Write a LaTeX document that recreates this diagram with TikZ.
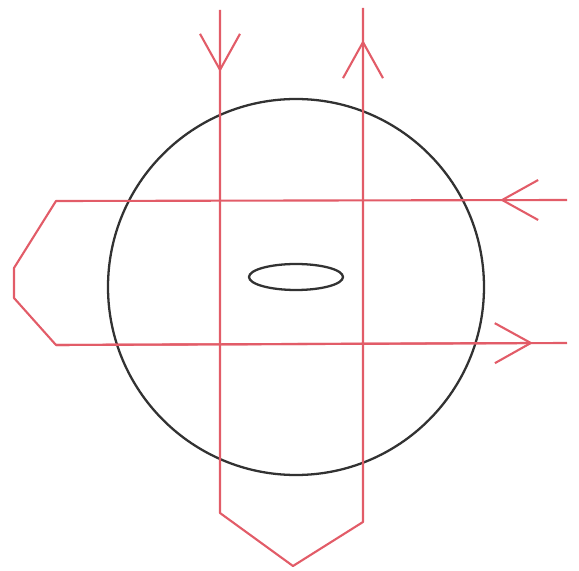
\documentclass[tikz,border=0pt]{standalone}
\usetikzlibrary{arrows.meta}
\definecolor{fieldred}{RGB}{226,92,104}
\definecolor{ringgray}{RGB}{50,50,50}
\tikzset{
  loopline/.style={fieldred,line width=1.2pt,line join=round},
  looparrow/.style={loopline,-{Straight Barb[length=0.72cm,width=0.8cm]}},
  ringline/.style={ringgray,line width=1.3pt}
}
\begin{document}
\begin{tikzpicture}[x=0.02cm,y=-0.02cm]
 \useasboundingbox (0,0) rectangle (579,571);
 \draw[ringline] (296,287) circle[radius=188];
 \draw[ringline] (296,277) ellipse[x radius=47,y radius=13];
 % vertical loop
 \coordinate (vlt) at (220,10);
 \coordinate (vla) at (220,72);
 \coordinate (vlb) at (220,513);
 \coordinate (vbot) at (293,566);
 \coordinate (vrb) at (363,522);
 \coordinate (vra) at (363,40);
 \coordinate (vrt) at (363,8);
 \draw[loopline] (vlt) -- (vlb) -- (vbot) -- (vrb) -- (vrt);
 \draw[looparrow] (vlt) -- (vla);
 \draw[looparrow] (vrb) -- (vra);
 % horizontal loop
 \coordinate (htr) at (567,200);
 \coordinate (hta) at (500,200);
 \coordinate (htl) at (56,201);
 \coordinate (hlu) at (14,268);
 \coordinate (hld) at (14,298);
 \coordinate (hbl) at (56,345);
 \coordinate (hba) at (533,343);
 \coordinate (hbr) at (567,343);
 \draw[loopline] (htr) -- (htl) -- (hlu) -- (hld) -- (hbl) -- (hbr);
 \draw[looparrow] (htr) -- (hta);
 \draw[looparrow] (hbl) -- (hba);
\end{tikzpicture}
\end{document}
